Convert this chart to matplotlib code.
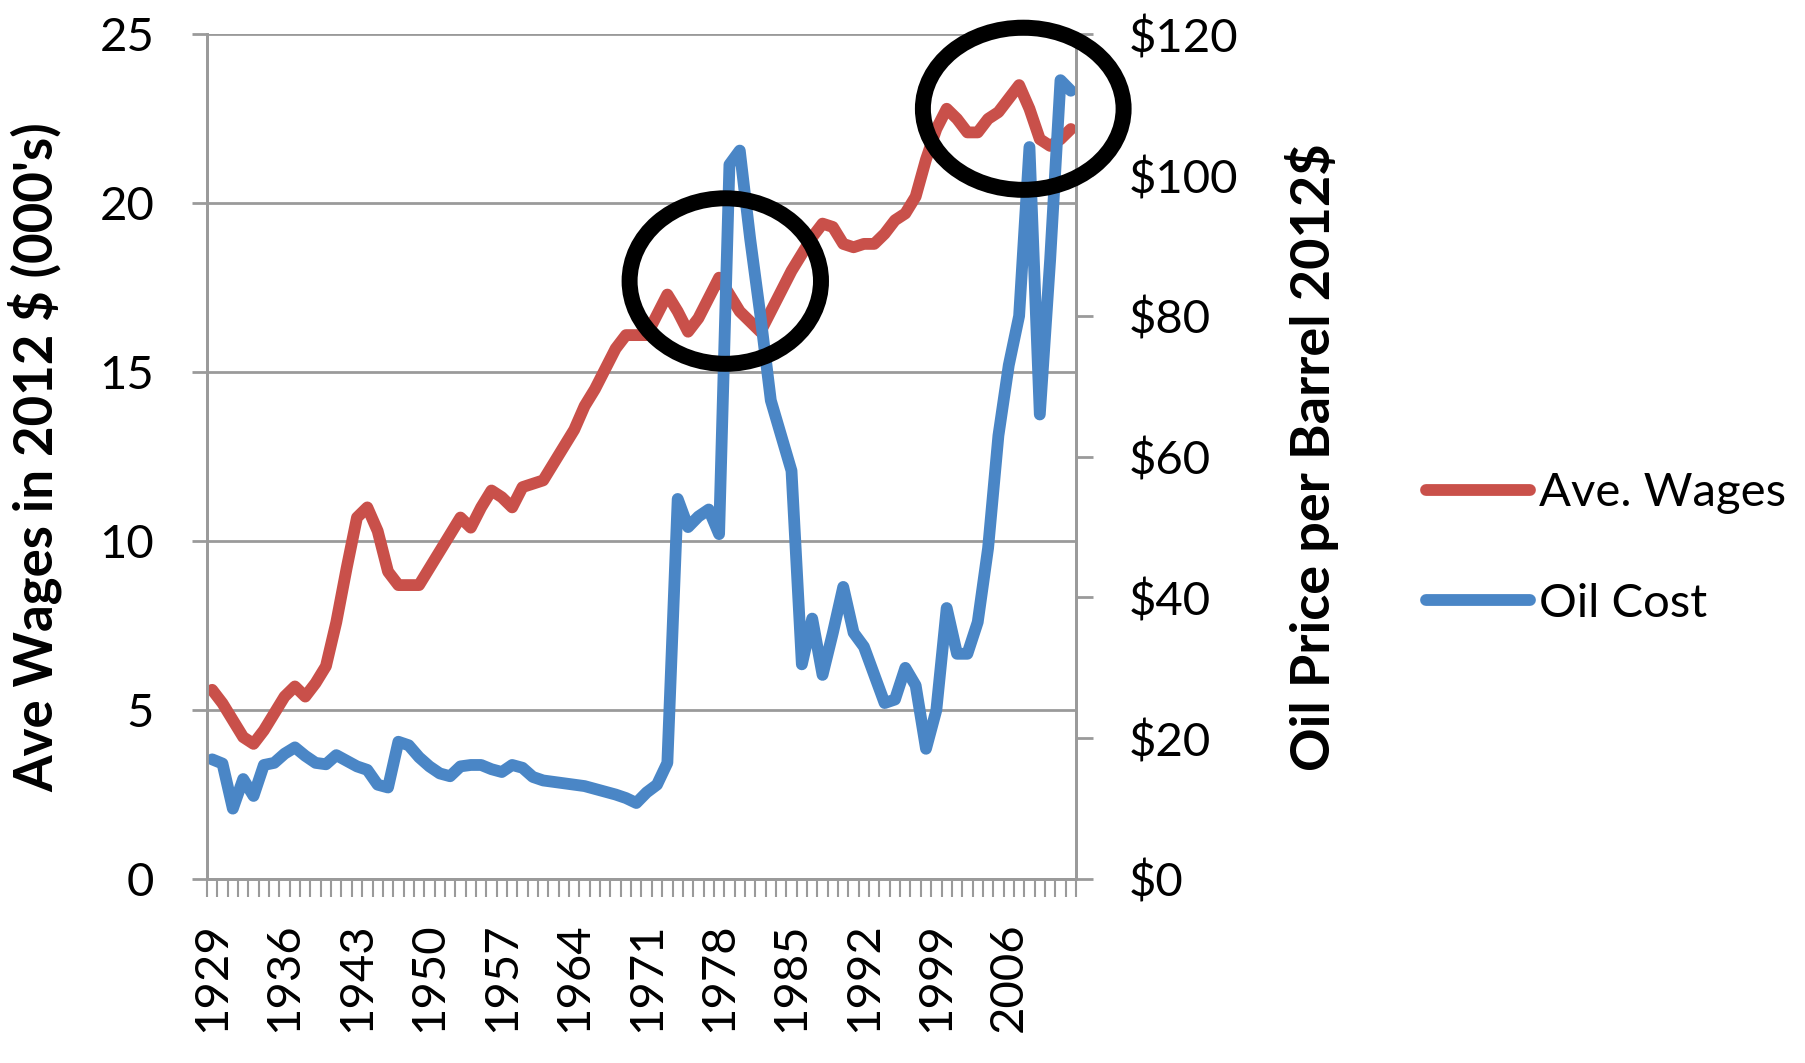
import matplotlib
matplotlib.use("Agg")
import matplotlib.pyplot as plt
from matplotlib.patches import Ellipse
from matplotlib.ticker import FuncFormatter, FixedLocator

plt.rcParams["font.family"] = ["Lato", "DejaVu Sans"]

# data
years = list(range(1929, 2013))
wages = [
    5.6, 5.2, 4.7, 4.2, 4.0, 4.4, 4.9, 5.4, 5.7, 5.4,
    5.8, 6.3, 7.6, 9.2, 10.7, 11.0, 10.3, 9.1, 8.7, 8.7,
    8.7, 9.2, 9.7, 10.2, 10.7, 10.4, 11.0, 11.5, 11.3, 11.0,
    11.6, 11.7, 11.8, 12.3, 12.8, 13.3, 14.0, 14.5, 15.1, 15.7,
    16.1, 16.1, 16.1, 16.7, 17.3, 16.8, 16.2, 16.6, 17.2, 17.8,
    17.3, 16.8, 16.5, 16.2, 16.8, 17.4, 18.0, 18.5, 19.0, 19.4,
    19.3, 18.8, 18.7, 18.8, 18.8, 19.1, 19.5, 19.7, 20.2, 21.3,
    22.2, 22.8, 22.5, 22.1, 22.1, 22.5, 22.7, 23.1, 23.5, 22.8,
    21.9, 21.7, 21.9, 22.2,
]
oil = [
    17.0, 16.4, 10.0, 14.2, 11.8, 16.2, 16.5, 17.8, 18.7, 17.5,
    16.5, 16.3, 17.6, 16.8, 16.0, 15.5, 13.4, 13.0, 19.5, 19.0,
    17.3, 16.0, 15.0, 14.6, 16.0, 16.2, 16.2, 15.6, 15.2, 16.2,
    15.8, 14.5, 14.0, 13.8, 13.6, 13.4, 13.2, 12.8, 12.4, 12.0,
    11.5, 10.8, 12.3, 13.4, 16.5, 54.0, 50.0, 51.5, 52.5, 49.0,
    101.5, 103.5, 91.0, 80.0, 68.0, 63.0, 58.0, 30.5, 37.0, 29.0,
    35.0, 41.5, 35.0, 33.0, 29.0, 25.0, 25.5, 30.0, 27.5, 18.5,
    24.0, 38.5, 32.0, 32.0, 36.5, 47.0, 63.0, 73.0, 80.0, 104.0,
    66.0, 88.0, 113.5, 112.0,
]
label_years = [1929, 1936, 1943, 1950, 1957, 1964, 1971, 1978, 1985, 1992, 1999, 2006]
wage_ticks = [0, 5, 10, 15, 20, 25]
oil_ticks = [0, 20, 40, 60, 80, 100, 120]

# highlighted periods: (centre year, centre wage, width in years, height in wage units)
circles = [(1978.6, 17.7, 18.5, 4.9), (2007.4, 22.8, 19.4, 4.8)]

RED = "#C9504A"
BLUE = "#4A86C6"
GRID = "#9a9a9a"

fig = plt.figure(figsize=(18.06, 10.63), dpi=100)
ax = fig.add_axes([0.1146, 0.1731, 0.4812, 0.7945])
ax2 = ax.twinx()

line_w, = ax.plot(years, wages, color=RED, lw=8.5, solid_joinstyle="round",
                  solid_capstyle="round", label="Ave. Wages")
line_o, = ax2.plot(years, oil, color=BLUE, lw=8.5, solid_joinstyle="round",
                   solid_capstyle="round", label="Oil Cost")

ax.set_xlim(years[0] - 0.5, years[-1] + 0.5)
ax.set_ylim(0, 25)
ax2.set_ylim(0, 120)

ax.set_yticks(wage_ticks)
ax2.set_yticks(oil_ticks)
ax2.yaxis.set_major_formatter(FuncFormatter(lambda v, p: f"${v:.0f}"))

ax.set_xticks(label_years)
ax.xaxis.set_minor_locator(FixedLocator([y - 0.5 for y in years] + [years[-1] + 0.5]))
ax.tick_params(axis="x", which="major", length=0, pad=31, labelsize=34, labelrotation=90)
ax.tick_params(axis="x", which="minor", length=13, width=1.5, color=GRID, direction="out")
ax.tick_params(axis="y", length=11, width=2, color=GRID, pad=27, labelsize=34)
ax2.tick_params(axis="y", length=12, width=2, color=GRID, pad=26, labelsize=34)

ax.grid(axis="y", color=GRID, lw=2)
ax.set_axisbelow(True)
for a in (ax, ax2):
    a.spines["top"].set_visible(False)
    for s in ("left", "right", "bottom"):
        a.spines[s].set_color(GRID)
        a.spines[s].set_linewidth(2)

ax.set_ylabel("Ave Wages in 2012 $ (000's)", fontsize=38, fontweight="bold")
ax.yaxis.set_label_coords(-0.166, 0.5)
ax2.set_ylabel("Oil Price per Barrel 2012$", fontsize=39, fontweight="bold")
ax2.yaxis.set_label_coords(1.24, 0.5)

for cx, cy, w, h in circles:
    ax2.add_patch(Ellipse((cx, cy), w, h, transform=ax.transData, fill=False,
                          edgecolor="black", lw=11.5, clip_on=False, zorder=5))

fig.legend(handles=[line_w, line_o], loc="center left", bbox_to_anchor=(0.7896, 0.484),
           frameon=False, fontsize=34, handlelength=2.2, handletextpad=0.2,
           labelspacing=1.45, borderpad=0, borderaxespad=0)

fig.savefig("out.png", dpi=100)
